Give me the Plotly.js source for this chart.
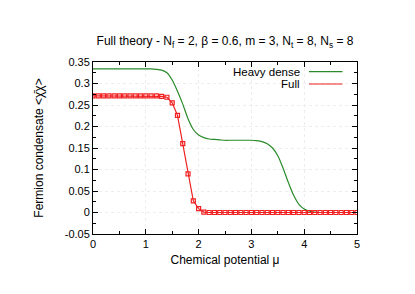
<!DOCTYPE html>
<html>
<head>
<meta charset="utf-8">
<script src="https://cdn.plot.ly/plotly-3.0.1.min.js"></script>
<style>html,body{margin:0;padding:0;background:#fff;}#plot{width:415px;height:294px;}</style>
</head>
<body>
<div id="plot"></div>
<script>
// Heavy dense curve
const muHeavy = [0.0,0.1,0.2,0.3,0.4,0.5,0.6,0.7,0.8,0.9,1.0,1.1,1.2,1.3,1.4,1.5,1.6,1.7,1.8,1.9,2.0,2.1,2.2,2.3,2.4,2.5,2.6,2.7,2.8,2.9,3.0,3.1,3.2,3.3,3.4,3.5,3.6,3.7,3.8,3.9,4.0,4.1,4.2,4.3,4.4,4.5,4.6,4.7,4.8,4.9,5.0];
const heavyDense = [0.334,0.334,0.334,0.334,0.334,0.334,0.334,0.334,0.334,0.334,0.334,0.334,0.333,0.331,0.325,0.308,0.282,0.252,0.218,0.193,0.180,0.174,0.171,0.170,0.169,0.168,0.168,0.168,0.168,0.168,0.168,0.167,0.165,0.160,0.150,0.132,0.103,0.070,0.040,0.019,0.008,0.003,0.001,0.0,0.0,0.0,0.0,0.0,0.0,0.0,0.0];
// Full theory data points
const muFull = [0.0,0.1,0.2,0.3,0.4,0.5,0.6,0.7,0.8,0.9,1.0,1.1,1.2,1.3,1.4,1.5,1.6,1.7,1.8,1.9,2.0,2.1,2.2,2.3,2.4,2.5,2.6,2.7,2.8,2.9,3.0,3.1,3.2,3.3,3.4,3.5,3.6,3.7,3.8,3.9,4.0,4.1,4.2,4.3,4.4,4.5,4.6,4.7,4.8,4.9,5.0];
const fullCond = [0.271,0.271,0.271,0.271,0.271,0.271,0.271,0.271,0.271,0.271,0.271,0.271,0.271,0.270,0.268,0.255,0.226,0.160,0.090,0.027,0.009,0.001,0,0,0,0,0,0,0,0,0,0,0,0,0,0,0,0,0,0,0,0,0,0,0,0,0,0,0,0,0];
const yTickVals = [-0.05,0,0.05,0.1,0.15,0.2,0.25,0.3,0.35];
const yTickText = ["-0.05","0","0.05","0.1","0.15","0.2","0.25","0.3","0.35"];
const xTickVals = [0,1,2,3,4,5];
const xTickText = ["0","1","2","3","4","5"];
const seriesNames = ["Heavy dense","Full"];
const colors = ["#2a8a2a","#f02020"];

const fam = "Liberation Sans, Arial, sans-serif";
const font = {family:fam, size:11, color:"#000"};
const bigFont = {family:fam, size:12, color:"#000"};
const legFont = {family:fam, size:11.5, color:"#000"};
const traces = [
  {x:muHeavy, y:heavyDense, type:"scatter", mode:"lines", name:seriesNames[0],
   line:{color:colors[0], width:1.2, shape:"spline", smoothing:0.8}, showlegend:false},
  {x:muFull, y:fullCond, type:"scatter", mode:"lines+markers", name:seriesNames[1],
   line:{color:colors[1], width:1.2},
   marker:{symbol:"square-open", size:4, color:colors[1], line:{width:1.2, color:colors[1]}}, showlegend:false}
];
const axisCommon = {
  showline:true, linecolor:"#000", linewidth:1, mirror:"ticks",
  ticks:"inside", ticklen:5, tickcolor:"#000", tickwidth:1,
  showgrid:true, gridcolor:"#ededed", griddash:"dot", gridwidth:1,
  zeroline:false, tickfont:font
};
const layout = {
  width:415, height:294,
  margin:{l:93, r:58, t:62, b:60},
  paper_bgcolor:"#fff", plot_bgcolor:"#fff",
  font:font,
  title:{text:"Full theory - N<sub>f</sub> = 2, β = 0.6, m = 3, N<sub>t</sub> = 8, N<sub>s</sub> = 8",
         font:bigFont, x:0.5, xref:"paper", xanchor:"center", y:0.86, yref:"container", yanchor:"middle"},
  xaxis:Object.assign({}, axisCommon, {
    range:[0,5], tickvals:xTickVals, ticktext:xTickText,
    minor:{ticks:"inside", dtick:0.5, ticklen:3, tickcolor:"#000", showgrid:false},
    title:{text:"Chemical potential μ", font:bigFont, standoff:6}
  }),
  yaxis:Object.assign({}, axisCommon, {
    range:[-0.05,0.35], tickvals:yTickVals, ticktext:yTickText,
    minor:{ticks:"inside", dtick:0.025, ticklen:3, tickcolor:"#000", showgrid:false},
    title:{text:"Fermion condensate <χ\u0304χ>", font:bigFont, standoff:18}
  }),
  annotations:[
    {xref:"paper", yref:"paper", x:0.792, y:0.944, xanchor:"right", yanchor:"middle", text:seriesNames[0], showarrow:false, font:legFont},
    {xref:"paper", yref:"paper", x:0.792, y:0.872, xanchor:"right", yanchor:"middle", text:seriesNames[1], showarrow:false, font:legFont}
  ],
  shapes:[
    {type:"line", xref:"paper", yref:"paper", x0:0.818, x1:0.945, y0:0.944, y1:0.944, line:{color:colors[0], width:1.2}},
    {type:"line", xref:"paper", yref:"paper", x0:0.818, x1:0.945, y0:0.872, y1:0.872, line:{color:colors[1], width:1.2}}
  ]
};
Plotly.newPlot("plot", traces, layout, {staticPlot:true, displayModeBar:false});
</script>
</body>
</html>
